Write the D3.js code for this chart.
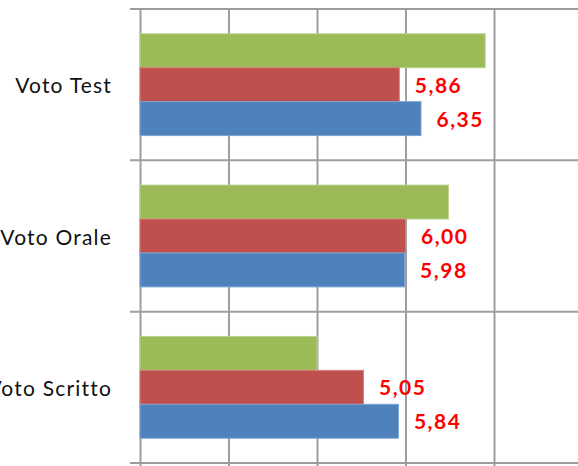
<!DOCTYPE html>
<html>
<head>
<meta charset="utf-8">
<script src="https://cdn.jsdelivr.net/npm/d3@7"></script>
<style>
	body { margin: 0; background: #fff; }
	svg { display: block; }
</style>
</head>
<body>
<svg id="chart" width="578" height="466"></svg>
<script>
/* Data */

var categories = ["Voto Test", "Voto Orale", "Voto Scritto"];
var seriesNames = ["green", "red", "blue"];
var greenValues = [7.80, 6.97, 4.00];
var redValues = [5.86, 6.00, 5.05];
var blueValues = [6.35, 5.98, 5.84];
var valueTicks = [0, 2, 4, 6, 8, 10];

var seriesColors = { green: "#9BBB59", red: "#C0504D", blue: "#4F81BD" };
var seriesStrokes = { green: "#b9d28a", red: "#d47f7c", blue: "#7ea3d3" };
// Only the red and blue bars carry value labels.
var seriesLabelled = { green: false, red: true, blue: true };

/* Layout */

var svg = d3.select("#chart");
var plotLeft = 140, plotTop = 9, plotBottom = 463;

var x = d3.scaleLinear().domain([0, 10]).range([plotLeft, 582.5]);
var y = d3.scaleBand().domain(categories).range([plotTop, plotBottom]);
var ySeries = d3.scaleBand().domain(seriesNames)
	.range([0, y.bandwidth()]).paddingInner(0).paddingOuter(0.73);

var itLocale = d3.formatLocale({ decimal: ",", thousands: ".", grouping: [3], currency: ["€", ""] });
var fmt = itLocale.format(".2f");

var gridColor = "#9e9e9e";

// Vertical gridlines (value axis), running a little past the bottom edge.
var xAxis = d3.axisTop(x).tickValues(valueTicks)
	.tickSizeInner(-(plotBottom - plotTop + 8)).tickSizeOuter(0)
	.tickFormat("");
svg.append("g").attr("transform", "translate(0," + plotTop + ")")
	.call(xAxis)
	.call(function (g) {
		g.select(".domain").remove();
		g.selectAll(".tick line").attr("stroke", gridColor).attr("stroke-width", 2);
	});

// Horizontal lines between categories, with the small tick to the left.
var boundaries = categories.map(function (c) { return y(c); }).concat([plotBottom]);
svg.append("g").selectAll("line").data(boundaries).enter().append("line")
	.attr("x1", plotLeft - 10).attr("x2", 578)
	.attr("y1", function (d) { return d; })
	.attr("y2", function (d) { return d; })
	.attr("stroke", gridColor).attr("stroke-width", 2);

// Category labels.
svg.append("g").attr("transform", "translate(" + plotLeft + ",0)")
	.call(d3.axisLeft(y).tickSize(0).tickPadding(28))
	.call(function (g) {
		g.select(".domain").remove();
		g.selectAll("text")
			.attr("font-family", "Lato, 'Open Sans', sans-serif")
			.attr("font-size", 21)
			.attr("letter-spacing", 1.2)
			.attr("fill", "#111")
			.attr("dy", "0.42em");
	});

/* Bars */

var valuesBySeries = { green: greenValues, red: redValues, blue: blueValues };
var rows = [];
categories.forEach(function (c, i) {
	seriesNames.forEach(function (s) {
		rows.push({ category: c, series: s, value: valuesBySeries[s][i] });
	});
});

var bars = svg.append("g").selectAll("rect").data(rows).enter().append("rect")
	.attr("x", x(0))
	.attr("y", function (d) { return y(d.category) + ySeries(d.series); })
	.attr("width", function (d) { return x(d.value) - x(0); })
	.attr("height", ySeries.bandwidth())
	.attr("fill", function (d) { return seriesColors[d.series]; })
	.attr("stroke", function (d) { return seriesStrokes[d.series]; })
	.attr("stroke-width", 1);

// Value labels in red, to the right of the bar ends.
svg.append("g").selectAll("text")
	.data(rows.filter(function (d) { return seriesLabelled[d.series]; }))
	.enter().append("text")
	.attr("x", function (d) { return x(d.value) + 15.5; })
	.attr("y", function (d) { return y(d.category) + ySeries(d.series) + ySeries.bandwidth() / 2; })
	.attr("dy", "0.38em")
	.attr("font-family", "Lato, 'Open Sans', sans-serif")
	.attr("font-weight", "bold")
	.attr("font-size", 21)
	.attr("letter-spacing", 1.5)
	.attr("fill", "#FF0000")
	.text(function (d) { return fmt(d.value); });
</script>
</body>
</html>
